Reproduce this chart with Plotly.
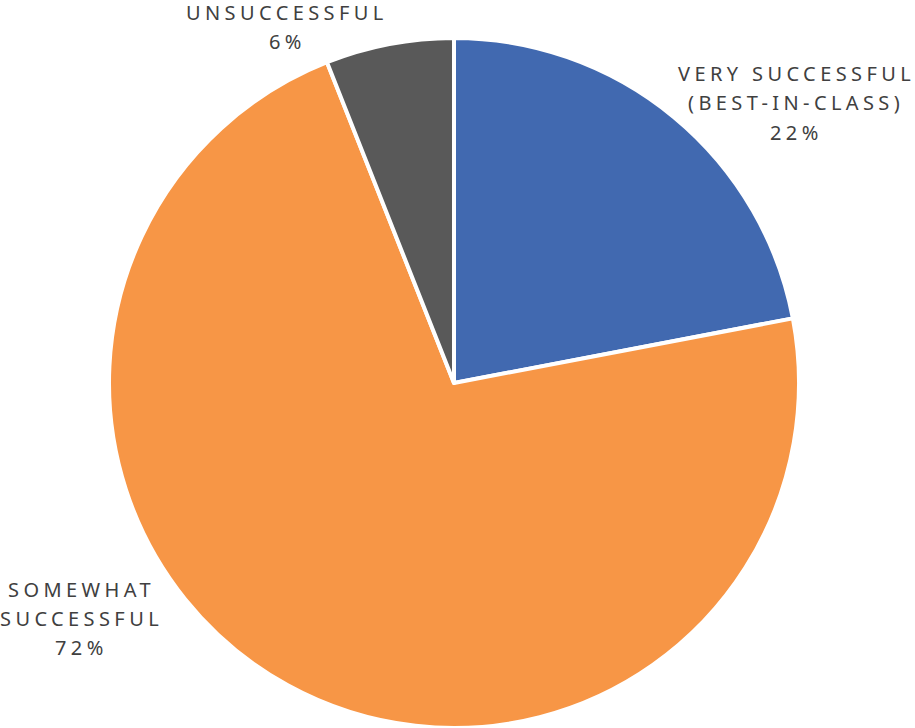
import plotly.graph_objects as go

# Survey outcome shares
categories = ["VERY SUCCESSFUL (BEST-IN-CLASS)", "SOMEWHAT SUCCESSFUL", "UNSUCCESSFUL"]
shares = [22, 72, 6]
colors = ["#4169B0", "#F79646", "#595959"]

# Label text lines per slice, and where each label block sits (pixels)
label_lines = [
    ["VERY SUCCESSFUL", "(BEST-IN-CLASS)", f"{shares[0]}%"],
    ["SOMEWHAT", "SUCCESSFUL", f"{shares[1]}%"],
    ["UNSUCCESSFUL", f"{shares[2]}%"],
]
label_pos = [(796, 74), (81, 589), (287, 12)]  # center x, first-line center y

W, H = 915, 728
cx, cy, r = 454, 383, 345
spacing = 4.4

fig = go.Figure(
    go.Pie(
        labels=categories,
        values=shares,
        sort=False,
        direction="clockwise",
        rotation=0,
        marker=dict(colors=colors, line=dict(color="white", width=4)),
        textinfo="none",
        hoverinfo="label+percent",
        showlegend=False,
        domain=dict(
            x=[(cx - r) / W, (cx + r) / W],
            y=[(H - cy - r) / H, (H - cy + r) / H],
        ),
    )
)

line_gap = 29
annotations = []
for lines, (px, py) in zip(label_lines, label_pos):
    for i, txt in enumerate(lines):
        y_px = py + i * line_gap
        annotations.append(
            dict(
                text=f'<span style="letter-spacing:{spacing}px">{txt}</span>',
                x=px / W,
                y=1 - y_px / H,
                xref="paper",
                yref="paper",
                xanchor="center",
                yanchor="middle",
                showarrow=False,
                font=dict(family="Noto Sans", size=20, color="#404040"),
            )
        )

fig.update_layout(
    width=W,
    height=H,
    margin=dict(l=0, r=0, t=0, b=0),
    paper_bgcolor="white",
    plot_bgcolor="white",
    annotations=annotations,
)

fig.write_html("out.html")
